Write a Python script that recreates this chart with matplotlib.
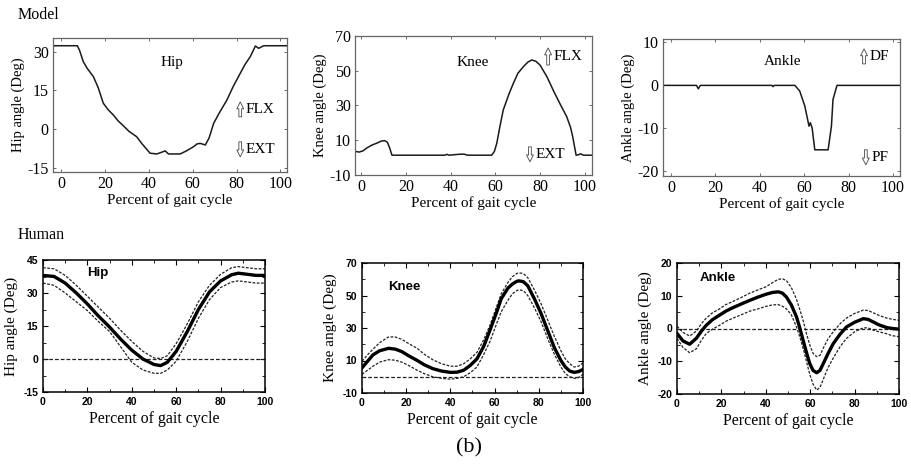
import matplotlib
matplotlib.use("Agg")
import matplotlib.pyplot as plt
from matplotlib.ticker import MultipleLocator

plt.rcParams["axes.unicode_minus"] = False

W, H = 912, 466
SERIF = ["Liberation Serif", "DejaVu Serif"]
SANS = ["Liberation Sans", "DejaVu Sans"]

# ---------------- data ----------------
# Model (top row)
m_hip_x = [-3.6, 7.5, 8.5, 10.2, 12, 14.8, 17, 19.3, 21.5, 23.9, 26, 28.5, 31, 34.5, 37, 40.6,
           43.7, 46, 47.5, 49, 54.3, 57, 60.4, 62, 63.5, 65.8, 67.5, 69.6, 72, 75.6, 78.5,
           81.7, 84, 86.3, 88.6, 90.1, 92.4, 103]
m_hip_y = [32.3, 32.3, 30.5, 26.1, 23.5, 20.3, 16, 10, 7.5, 5.4, 3.2, 1.2, -0.9, -3, -5.8, -9.4,
           -9.7, -9.0, -8.5, -9.7, -9.7, -8.6, -6.9, -5.8, -5.6, -6.2, -3.5, 2.2, 6, 11.2, 16.5,
           21.6, 25.2, 28.1, 32.2, 31.3, 32.3, 32.3]

m_knee_x = [-2.7, -0.8, 1, 2.5, 4.8, 7, 9, 10.5, 11.8, 12.8, 13.8, 37.5, 38.3, 39.3, 43.5, 46,
            47.5, 58.3, 59.5, 60.6, 62, 63.5, 66, 68, 70, 72.5, 74.5, 76.2, 78, 79.9, 83,
            85.9, 89, 91.8, 93.5, 94.5, 96, 97, 98, 99.3, 103]
m_knee_y = [3.6, 3.2, 4.0, 5.5, 7.2, 8.3, 9.5, 9.8, 8.8, 5.5, 1.4, 1.4, 1.9, 1.4, 1.9, 2.0,
            1.4, 1.4, 3.5, 8.3, 18, 27.5, 36.5, 42.8, 48.5, 52.4, 55, 56.2, 55.5, 53.3, 46.5,
            38.5, 30.5, 23.6, 17.5, 12, 1.4, 1.6, 2.2, 1.4, 1.4]

m_ank_x = [-3.6, 11.5, 12.3, 13.2, 45.5, 46, 46.5, 55.8, 58, 60.3, 62.2, 62.8, 63.6, 64.8,
           70.8, 72.3, 73, 74.8, 103]
m_ank_y = [0, 0, -0.8, 0, 0, -0.3, 0, 0, -1.3, -4.8, -9.5, -8.7, -9.9, -15,
           -15, -9.5, -3.3, 0, 0]

# Human (bottom row): mean and +/- band
h_hip_x = [0, 5, 10, 15, 20, 25, 30, 35, 40, 45, 50, 53, 56, 60, 65, 70, 75, 80, 85, 88, 92, 96, 100]
h_hip_m = [38, 37.5, 34.5, 30, 25, 19.5, 14.5, 9, 4, 0, -2.5, -3, -1.5, 3.5, 12.5, 22.5, 30.5,
           35.5, 38.3, 39, 38.5, 38, 38]
h_hip_u = [41.5, 41, 38, 33.5, 28.5, 23.5, 18.5, 13, 8, 3.5, 0.5, 0.2, 1.5, 7, 16, 26, 33.5,
           38.5, 41.5, 42, 41.5, 41, 41]
h_hip_l = [34.5, 33.5, 30, 26, 22, 17, 12.5, 5.5, -1.5, -5, -6.5, -6.5, -5, -1, 8, 18.5, 27,
           32.5, 35, 35.5, 35, 34.5, 34.5]

h_knee_x = [0, 2.5, 5, 8, 12, 15, 18, 21, 25, 28, 32, 36, 40, 43, 46, 49, 52, 55, 58, 61, 63,
            66, 68, 70, 71, 73, 75, 78, 81, 84, 87, 90, 92, 94, 96, 98, 100]
h_knee_m = [5.5, 9.5, 13.5, 16, 17.5, 17, 15.5, 13, 10, 7.5, 5, 3.5, 2.7, 2.8, 4, 7, 11, 18.5,
            29, 40, 48, 54.5, 57, 58.7, 59, 58.5, 56, 48, 39, 28.5, 18, 10, 6, 3.5, 2.7, 3.2, 4.5]
h_knee_u = [9.5, 13.5, 17, 21, 24.5, 24.5, 23, 20.5, 17.5, 14, 10.5, 8, 6.5, 6.5, 8, 11, 15,
            22.5, 32, 43.5, 51, 58, 61.5, 63.5, 64, 63.5, 61, 53.5, 45, 35, 25, 16, 11, 8, 6,
            6.5, 8.5]
h_knee_l = [1.5, 4, 6.5, 9, 10.5, 10.2, 9, 7, 4, 2, 0, -1, -1.5, -1, 0, 2.5, 6, 13.5, 22, 33,
            40, 47, 51, 53, 53.5, 53, 50, 42.5, 34, 23.5, 14, 6, 2, 0, -1, -0.5, 1.5]

h_ank_x = [0, 2.7, 5.7, 8.7, 11, 13.2, 16, 19.2, 22, 25.3, 29, 32.8, 36.5, 40.3, 43, 45.6,
           47.5, 49.3, 51.5, 53.8, 55.3, 56.8, 58.3, 59.8, 61.3, 62.9, 64.4, 65.9, 68, 70.4,
           73.5, 76.4, 80, 83.9, 86, 88.4, 91, 94.4, 97, 100]
h_ank_m = [-1.5, -3.8, -4.8, -3, -0.8, 1, 2.7, 4.1, 5.3, 6.4, 7.5, 8.6, 9.6, 10.5, 11, 11.2,
           10.8, 9.6, 7.2, 3.6, 0.2, -3.6, -7.3, -10.7, -12.8, -13.5, -12.8, -10.7, -7.7, -4.6,
           -1.7, 0.5, 1.9, 3, 2.8, 2, 1.1, 0.3, 0, -0.2]
h_ank_u = [0.7, -1.2, -2.3, -0.8, 1.5, 3.2, 4.8, 6, 7.3, 8.3, 9.5, 10.8, 11.8, 12.8, 14,
           15, 15.2, 14.6, 12.5, 9, 5.8, 2.5, -1.5, -5, -7.6, -8.6, -8.2, -6, -3.2, -1,
           1.5, 3.2, 4.6, 5.6, 5.5, 4.8, 4, 3.2, 2.8, 2.5]
h_ank_l = [-3, -5.8, -7.4, -6.2, -3.6, -1.5, -0.2, 1, 2.2, 3.2, 4.2, 5.3, 6, 6.8, 7.2, 7.3,
           6.8, 6, 4.2, 0.5, -2.5, -6, -10, -14, -17, -18.8, -18, -15.5, -12, -9,
           -5.5, -3, -1, 0.2, 0.2, -0.5, -1, -1.6, -2.2, -2.5]

xticks = [0, 20, 40, 60, 80, 100]


def px_axes(fig, l, r, t, b):
    return fig.add_axes([l / W, 1 - b / H, (r - l) / W, (b - t) / H])


fig = plt.figure(figsize=(W / 100, H / 100), dpi=100)

# ---------------- top row: model ----------------
top_specs = [
    dict(box=(53, 287, 38, 172), xlim=(-3.6, 103), ylim=(-16.7, 35.3), yt=[-15, 0, 15, 30],
         x=m_hip_x, y=m_hip_y, ylabel="Hip angle (Deg)", name="Hip", name_xy=(50.5, 25.6),
         up=("FLX", 81.7, 4.7, 10.5), dn=("EXT", 81.7, -5.0, -10.8)),
    dict(box=(355, 592, 36, 175), xlim=(-2.7, 103.1), ylim=(-10, 70), yt=[-10, 10, 30, 50, 70],
         x=m_knee_x, y=m_knee_y, ylabel="Knee angle (Deg)", name="Knee", name_xy=(50, 55),
         up=("FLX", 83.5, 53.3, 63.1), dn=("EXT", 75.4, 6.2, -2.4)),
    dict(box=(663, 900, 39, 176), xlim=(-3.6, 103.2), ylim=(-21.1, 10.8), yt=[-20, -10, 0, 10],
         x=m_ank_x, y=m_ank_y, ylabel="Ankle angle (Deg)", name="Ankle", name_xy=(50.5, 5.5),
         up=("DF", 87.0, 5.0, 8.5), dn=("PF", 87.8, -15.0, -18.5)),
]

for s in top_specs:
    ax = px_axes(fig, *s["box"])
    ax.plot(s["x"], s["y"], color="#1a1a1a", lw=1.1)
    ax.set_xlim(*s["xlim"])
    ax.set_ylim(*s["ylim"])
    ax.set_xticks(xticks)
    ax.set_yticks(s["yt"])
    ax.tick_params(direction="in", top=True, right=True, length=2.5, width=0.6,
                   color="#555555", labelsize=11.5, pad=3)
    for lab in ax.get_xticklabels() + ax.get_yticklabels():
        lab.set_family(SERIF)
    for sp in ax.spines.values():
        sp.set_color("#666666")
        sp.set_linewidth(0.9)
    ax.set_xlabel("Percent of gait cycle", family=SERIF, fontsize=11, labelpad=1)
    ax.set_ylabel(s["ylabel"], family=SERIF, fontsize=10.5, labelpad=2)
    ax.text(*s["name_xy"], s["name"], family=SERIF, fontsize=11, ha="center", va="center")
    for lab, ax_x, y0, y1 in (s["up"], s["dn"]):
        ax.annotate("", xy=(ax_x, y1), xytext=(ax_x, y0),
                    arrowprops=dict(arrowstyle="simple,head_width=0.55,head_length=0.55,tail_width=0.22",
                                    fc="white", ec="#444444", lw=0.6, mutation_scale=9,
                                    shrinkA=0, shrinkB=0))
        ax.text(ax_x + 2.6, (y0 + y1) / 2, lab, family=SERIF, fontsize=11,
                ha="left", va="center")

# ---------------- bottom row: human ----------------
bot_specs = [
    dict(box=(43, 265, 260, 392), ylim=(-15, 45), yt=[-15, 0, 15, 30, 45], ymin=7.5,
         x=h_hip_x, m=h_hip_m, u=h_hip_u, l=h_hip_l, ylabel="Hip angle (Deg)",
         name="Hip", name_xy=(20, 39)),
    dict(box=(362, 583, 263, 393), ylim=(-10, 70), yt=[-10, 10, 30, 50, 70], ymin=10,
         x=h_knee_x, m=h_knee_m, u=h_knee_u, l=h_knee_l, ylabel="Knee angle (Deg)",
         name="Knee", name_xy=(12, 55)),
    dict(box=(677, 899, 263, 394), ylim=(-20, 20), yt=[-20, -10, 0, 10, 20], ymin=5,
         x=h_ank_x, m=h_ank_m, u=h_ank_u, l=h_ank_l, ylabel="Ankle angle (Deg)",
         name="Ankle", name_xy=(10, 15.5)),
]

for s in bot_specs:
    ax = px_axes(fig, *s["box"])
    ax.axhline(0, color="#222222", lw=0.9, ls=(0, (3, 1.6)))
    ax.plot(s["x"], s["u"], color="#222222", lw=0.9, ls=(0, (2.2, 1.2)))
    ax.plot(s["x"], s["l"], color="#222222", lw=0.9, ls=(0, (2.2, 1.2)))
    ax.plot(s["x"], s["m"], color="black", lw=2.4, solid_capstyle="round")
    ax.set_xlim(0, 100)
    ax.set_ylim(*s["ylim"])
    ax.set_xticks(xticks)
    ax.set_yticks(s["yt"])
    ax.xaxis.set_minor_locator(MultipleLocator(10))
    ax.yaxis.set_minor_locator(MultipleLocator(s["ymin"]))
    ax.tick_params(which="major", direction="in", top=True, right=True, length=3.5, width=0.8,
                   labelsize=7.5, pad=3.5)
    ax.tick_params(which="minor", direction="in", top=True, right=True, length=2, width=0.6)
    for lab in ax.get_xticklabels() + ax.get_yticklabels():
        lab.set_family(SANS)
        lab.set_fontweight("bold")
    for sp in ax.spines.values():
        sp.set_color("black")
        sp.set_linewidth(1.1)
    ax.set_xlabel("Percent of gait cycle", family=SERIF, fontsize=11.5, labelpad=3)
    ax.set_ylabel(s["ylabel"], family=SERIF, fontsize=11, labelpad=4)
    ax.text(*s["name_xy"], s["name"], family=SANS, fontweight="bold", fontsize=9.5,
            ha="left", va="center")

# ---------------- figure texts ----------------
fig.text(18 / W, 1 - 15 / H, "Model", family=SERIF, fontsize=11.5, ha="left", va="center")
fig.text(18 / W, 1 - 235 / H, "Human", family=SERIF, fontsize=11.5, ha="left", va="center")
fig.text(469 / W, 1 - 448 / H, "(b)", family=SERIF, fontsize=16, ha="center", va="center")

fig.savefig("out.png", dpi=100, facecolor="white")
